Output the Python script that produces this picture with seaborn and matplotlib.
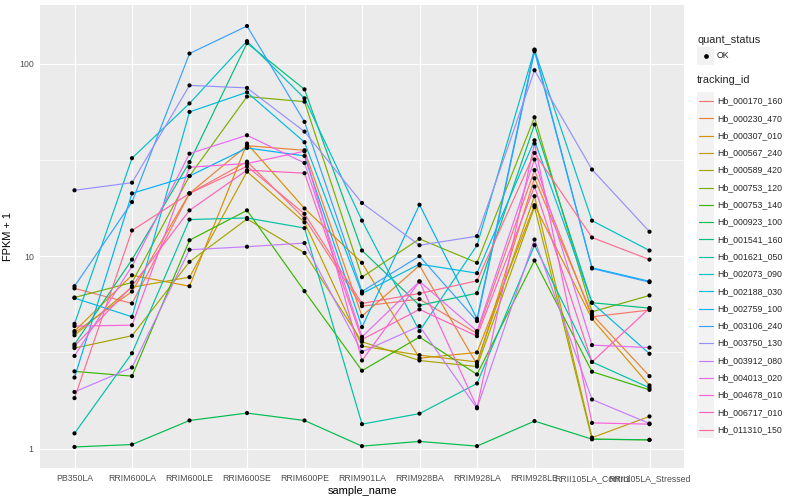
import numpy as np
import pandas as pd
import matplotlib
matplotlib.use("Agg")
import matplotlib.pyplot as plt
import seaborn as sns
from matplotlib.lines import Line2D
from matplotlib.patches import Rectangle
from matplotlib.ticker import FixedLocator, NullFormatter

# ---------------- data ----------------
samples = ["PB350LA", "RRIM600LA", "RRIM600LE", "RRIM600SE", "RRIM600PE",
           "RRIM901LA", "RRIM928BA", "RRIM928LA", "RRIM928LE",
           "RRII105LA_Control", "RRII105LA_Stressed"]

tracking_ids = ["Hb_000170_160", "Hb_000230_470", "Hb_000307_010", "Hb_000567_240",
                "Hb_000589_420", "Hb_000753_120", "Hb_000753_140", "Hb_000923_100",
                "Hb_001541_160", "Hb_001621_050", "Hb_002073_090", "Hb_002188_030",
                "Hb_002759_100", "Hb_003106_240", "Hb_003750_130", "Hb_003912_080",
                "Hb_004013_020", "Hb_004678_010", "Hb_006717_010", "Hb_011310_150"]

hb_000170_160 = [6.8, 5.68, 21.2, 31.0, 15.7, 5.50, 5.98, 3.97, 28.0, 4.84, 5.25]
hb_000230_470 = [4.0, 6.55, 21.2, 37.5, 35.5, 4.88, 8.95, 2.74, 25.4, 4.98, 2.38]
hb_000307_010 = [4.08, 7.96, 6.98, 38.5, 17.7, 9.24, 2.95, 3.16, 18.4, 4.73, 2.13]
hb_000567_240 = [3.88, 6.9, 7.78, 27.5, 15.0, 3.41, 3.06, 2.82, 20.5, 1.14, 1.47]
hb_000589_420 = [3.33, 3.86, 9.35, 15.6, 10.4, 3.59, 2.87, 2.67, 18.0, 1.12, 1.11]
hb_000753_120 = [6.1, 7.3, 26.1, 67.5, 63.5, 7.78, 12.3, 9.24, 52.7, 5.14, 6.25]
hb_000753_140 = [2.52, 2.38, 12.1, 17.3, 6.58, 2.54, 3.80, 2.43, 9.5, 2.51, 2.02]
hb_000923_100 = [1.02, 1.05, 1.40, 1.53, 1.40, 1.03, 1.09, 1.03, 1.39, 1.12, 1.11]
hb_001541_160 = [3.48, 9.6, 30.8, 128.0, 73.6, 10.7, 5.55, 6.42, 48.3, 5.73, 5.37]
hb_001621_050 = [1.20, 3.13, 15.5, 15.8, 14.0, 1.34, 1.52, 2.18, 11.4, 2.82, 2.07]
hb_002073_090 = [4.45, 32.3, 62.2, 131.0, 66.1, 15.3, 4.08, 11.4, 118.0, 15.3, 10.7]
hb_002188_030 = [6.06, 4.84, 56.2, 71.1, 39.1, 6.40, 9.09, 8.16, 40.0, 5.73, 3.11]
hb_002759_100 = [2.34, 21.2, 26.1, 36.5, 33.2, 4.28, 18.5, 4.73, 118.5, 8.7, 7.4]
hb_003106_240 = [6.98, 19.1, 113.0, 157.0, 49.9, 6.56, 10.0, 4.60, 116.0, 8.63, 7.33]
hb_003750_130 = [22.0, 24.1, 77.2, 74.9, 44.4, 18.9, 11.4, 12.7, 92.5, 28.2, 13.4]
hb_003912_080 = [1.97, 2.64, 10.8, 11.2, 11.7, 3.18, 4.33, 1.62, 12.2, 1.80, 1.35]
hb_004013_020 = [3.03, 8.87, 34.1, 42.5, 30.5, 3.81, 7.39, 4.08, 31.8, 3.45, 3.35]
hb_004678_010 = [4.33, 4.38, 29.0, 30.3, 35.1, 2.87, 7.39, 1.64, 38.5, 1.36, 1.34]
hb_006717_010 = [3.41, 7.0, 17.3, 28.0, 27.0, 3.69, 5.29, 3.84, 23.0, 2.82, 5.37]
hb_011310_150 = [1.83, 13.6, 21.2, 29.3, 16.6, 5.68, 6.40, 7.45, 34.4, 12.5, 9.6]

series_values = [hb_000170_160, hb_000230_470, hb_000307_010, hb_000567_240,
                 hb_000589_420, hb_000753_120, hb_000753_140, hb_000923_100,
                 hb_001541_160, hb_001621_050, hb_002073_090, hb_002188_030,
                 hb_002759_100, hb_003106_240, hb_003750_130, hb_003912_080,
                 hb_004013_020, hb_004678_010, hb_006717_010, hb_011310_150]

# ggplot2 default hue palette (20 levels)
palette = ["#F8766D", "#EA8331", "#D89000", "#C09B00", "#A3A500", "#7CAE00",
           "#39B600", "#00BB4E", "#00BF7D", "#00C1A3", "#00BFC4", "#00BAE0",
           "#00B0F6", "#35A2FF", "#9590FF", "#C77CFF", "#E76BF3", "#FA62DB",
           "#FF62BC", "#FF6C91"]

rows = []
for tid, vals in zip(tracking_ids, series_values):
    for s, v in zip(samples, vals):
        rows.append({"tracking_id": tid, "sample_name": s, "FPKM + 1": v,
                     "quant_status": "OK"})
df = pd.DataFrame(rows)

# ---------------- style ----------------
sns.set_style("white")
plt.rcParams["font.family"] = ["Liberation Sans", "DejaVu Sans"]

W, H = 800, 500
fig = plt.figure(figsize=(8, 5), dpi=100)
fig.patch.set_facecolor("white")
px0, px1, py0, py1 = 40, 684, 5, 468
ax = fig.add_axes([px0 / W, 1 - py1 / H, (px1 - px0) / W, (py1 - py0) / H])
ax.set_facecolor("#EBEBEB")
for sp in ax.spines.values():
    sp.set_visible(False)

ax.set_yscale("log")
sns.lineplot(data=df, x="sample_name", y="FPKM + 1", hue="tracking_id",
             hue_order=tracking_ids, palette=palette, estimator=None,
             sort=False, linewidth=0.85, legend=False, ax=ax, zorder=2)
sns.scatterplot(data=df, x="sample_name", y="FPKM + 1", color="black",
                s=9, edgecolor="none", linewidth=0, legend=False, ax=ax,
                zorder=3)

# limits like ggplot (discrete x: 0.6 expansion, log y: 5% expansion)
n = len(samples)
ax.set_xlim(-0.6, n - 1 + 0.6)
lv = np.log10(df["FPKM + 1"].values)
lo, hi = lv.min(), lv.max()
pad = 0.05 * (hi - lo)
ax.set_ylim(10 ** (lo - pad), 10 ** (hi + pad))

ax.set_xticks(range(n))
ax.set_xticklabels(samples)
ax.yaxis.set_major_locator(FixedLocator([1, 10, 100]))
ax.set_yticklabels(["1", "10", "100"])
ax.yaxis.set_minor_locator(FixedLocator([10 ** 0.5, 10 ** 1.5]))
ax.yaxis.set_minor_formatter(NullFormatter())

ax.grid(True, which="major", color="white", linewidth=0.85, zorder=0)
ax.grid(True, which="minor", axis="y", color="white", linewidth=0.45, zorder=0)
ax.set_axisbelow(True)
ax.tick_params(axis="both", which="major", length=2.5, width=0.6,
               color="#333333", labelcolor="#4D4D4D", labelsize=6.3, pad=2)
ax.tick_params(axis="y", which="minor", length=0)

ax.set_xlabel("sample_name", fontsize=7.9, color="black", labelpad=2)
ax.set_ylabel("FPKM + 1", fontsize=7.9, color="black", labelpad=4)

# ---------------- legend (ggplot-like, right side) ----------------
def fx(x):
    return x / W

def fy(y):
    return 1 - y / H

kx0, kw = 697, 17.3
tx = 717
fig.text(fx(kx0), fy(40), "quant_status", fontsize=7.9, va="center", ha="left")
fig.patches.append(Rectangle((fx(kx0), fy(56 + kw / 2)), kw / W, kw / H,
                             transform=fig.transFigure, facecolor="#F2F2F2",
                             edgecolor="none"))
fig.lines.append(Line2D([fx(kx0 + kw / 2)], [fy(56)], transform=fig.transFigure,
                        marker="o", markersize=2.4, color="black", linestyle="none"))
fig.text(fx(tx), fy(56), "OK", fontsize=6.3, va="center", ha="left")

fig.text(fx(kx0), fy(80), "tracking_id", fontsize=7.9, va="center", ha="left")
for i, (tid, col) in enumerate(zip(tracking_ids, palette)):
    yc = 101 + i * 17.3
    fig.patches.append(Rectangle((fx(kx0), fy(yc + kw / 2)), kw / W, kw / H,
                                 transform=fig.transFigure, facecolor="#F2F2F2",
                                 edgecolor="none"))
    fig.lines.append(Line2D([fx(kx0 + 1.7), fx(kx0 + kw - 1.7)], [fy(yc), fy(yc)],
                            transform=fig.transFigure, color=col, linewidth=0.85))
    fig.text(fx(tx), fy(yc), tid, fontsize=6.3, va="center", ha="left")

fig.savefig("out.png", dpi=100)
